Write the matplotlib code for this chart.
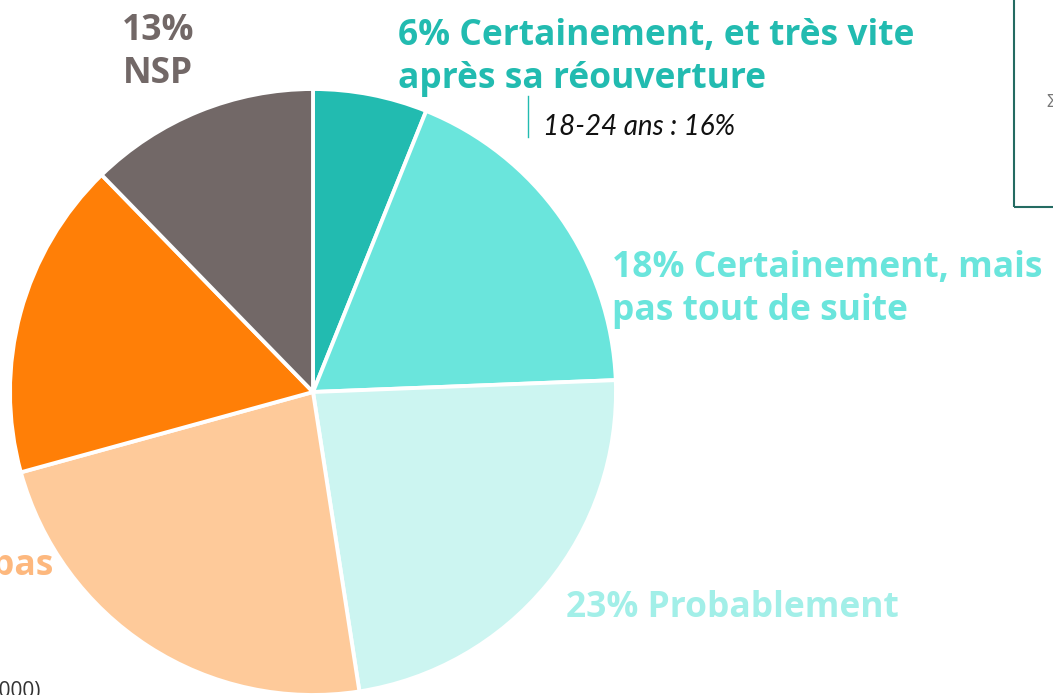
import numpy as np
import matplotlib
matplotlib.use("Agg")
import matplotlib.pyplot as plt
from matplotlib.patches import Rectangle

# answers, clockwise from the top
answers = ["Certainement, et très vite\naprès sa réouverture",
           "Certainement, mais\npas tout de suite",
           "Probablement",
           "Probablement pas",
           "Certainement pas",
           "NSP"]
# printed percentages
pct_labels = [6, 18, 23, 23, 17, 13]
# slice sizes
shares = [6.1, 18.3, 23.2, 23.2, 17.0, 12.3]
slice_colors = ["#22BBB0", "#6AE5DC", "#CCF5F1", "#FECA9A", "#FF7F07", "#726867"]
label_colors = ["#22BBB0", "#6AE5DC", "#A2EFE8", "#FDB87E", "#FF7F07", "#726867"]

# sub-group detail for the first answer
sub_group = "18-24 ans"
sub_share = 16

base_note = "(Base : 1 000)"

W, H = 1053, 695
plt.rcParams['font.family'] = ['Open Sans', 'DejaVu Sans']

fig = plt.figure(figsize=(W / 100, H / 100), dpi=100)
ax = fig.add_axes([0, 0, 1, 1])

ax.pie(shares, colors=slice_colors, startangle=90, counterclock=False,
       center=(313, H - 392), radius=303,
       wedgeprops=dict(edgecolor="white", linewidth=2.8))
ax.set_xlim(0, W)
ax.set_ylim(0, H)
ax.set_aspect("equal")
ax.axis("off")

# labels (va=baseline -> last line's baseline)
fs = 25.5
ax.text(398, H - 88, f"{pct_labels[0]}% {answers[0]}", color=label_colors[0],
        fontsize=fs, fontweight="bold", va="baseline", linespacing=1.25)
ax.text(612, H - 320, f"{pct_labels[1]}% {answers[1]}", color=label_colors[1],
        fontsize=fs, fontweight="bold", va="baseline", linespacing=1.25)
ax.text(566, H - 617, f"{pct_labels[2]}% {answers[2]}", color=label_colors[2],
        fontsize=fs, fontweight="bold", va="baseline")
ax.text(53, H - 575, f"{pct_labels[3]}% {answers[3]}", color=label_colors[3],
        fontsize=fs, fontweight="bold", va="baseline", ha="right")
ax.text(158, H - 83, f"{pct_labels[5]}%\n{answers[5]}", color=label_colors[5],
        fontsize=fs, fontweight="bold", va="baseline", ha="center", linespacing=1.25)

# sub-group callout
ax.plot([528, 528], [H - 96, H - 137], color="#22BBB0", lw=1)
ax.text(543, H - 135, f"{sub_group} : {sub_share}%", color="#111111",
        fontsize=20, fontstyle="italic", va="baseline", family=["Lato", "DejaVu Sans"])

# base note, cut off at the bottom left
ax.text(40, H - 697, base_note, color="#333333", fontsize=15, ha="right", va="baseline")

# side box, mostly outside the crop
ax.add_patch(Rectangle((1014, H - 207), 200, 260, fill=False,
                       edgecolor="#246B62", lw=1.5, clip_on=False))
ax.text(1046, H - 102, "Σ", color="#777777", fontsize=13, va="center")

fig.savefig("out.png", dpi=100)
